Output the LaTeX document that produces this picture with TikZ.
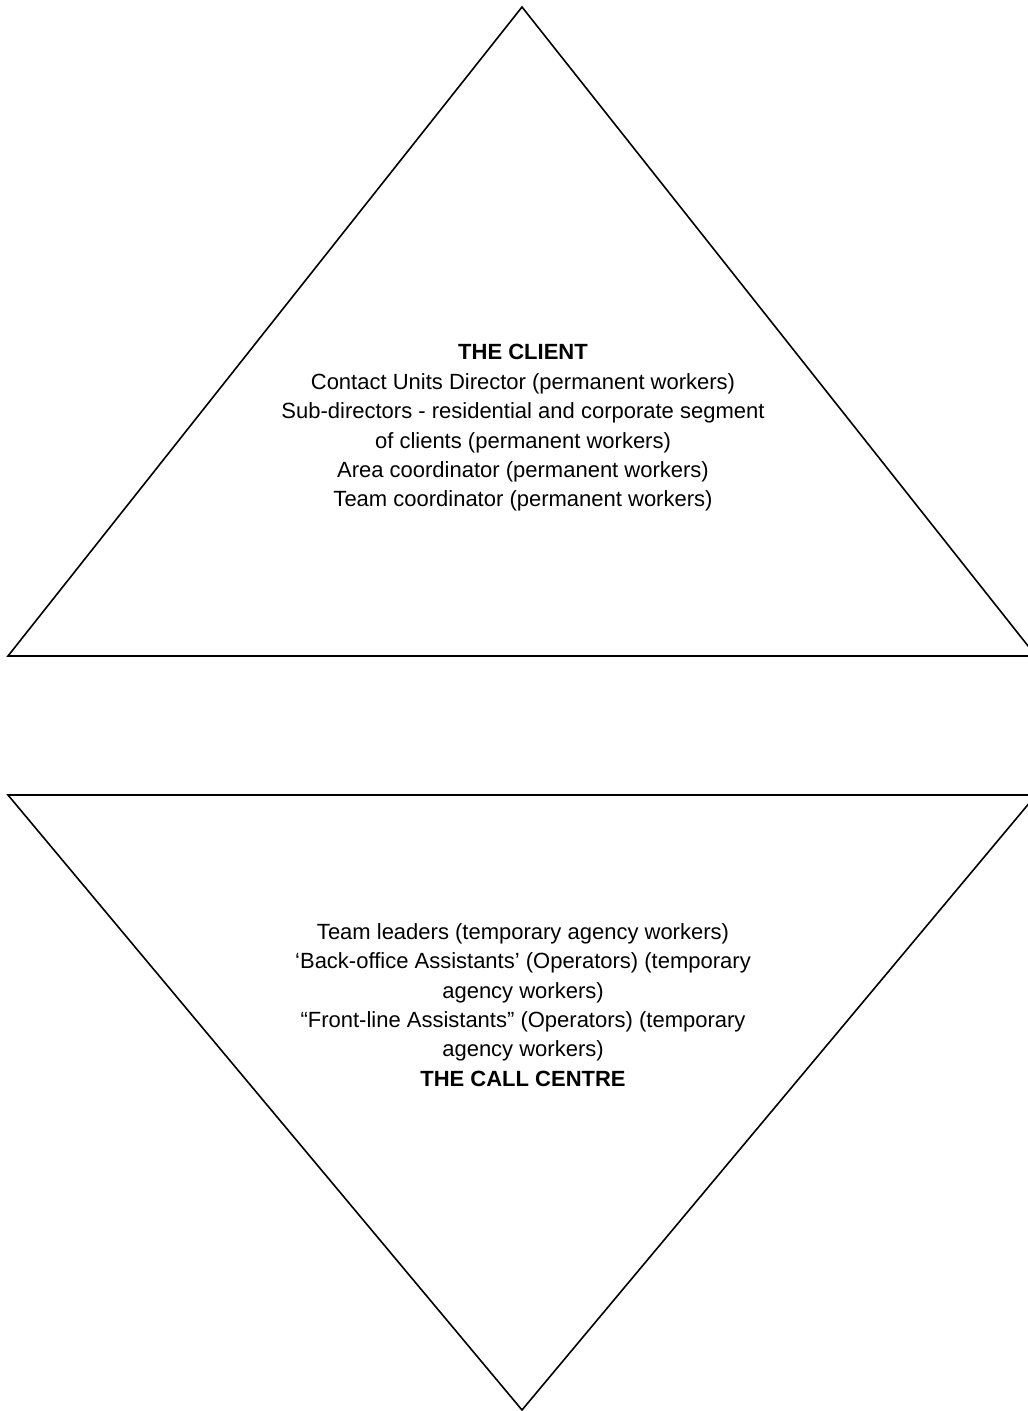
\documentclass[tikz,border=0pt]{standalone}
\usepackage{fontspec}
\setmainfont{Liberation Sans}
\begin{document}
\begin{tikzpicture}[x=1pt,y=-1pt,
  edge/.style={line width=1.6pt, line join=miter},
  label/.style={align=center, inner sep=0pt, font=\fontsize{22}{29.4}\selectfont}]
\useasboundingbox (0,0) rectangle (1028,1411);
% top triangle
\coordinate (tA) at (522,7);
\coordinate (tL) at (8,656);
\coordinate (tR) at (1036,656);
\draw[edge] (tA) -- (tL) -- (tR) -- cycle;
% bottom triangle
\coordinate (bL) at (8,795);
\coordinate (bR) at (1036,795);
\coordinate (bA) at (522,1410);
\draw[edge] (bL) -- (bR) -- (bA) -- cycle;
% texts
\node[label] (client) at (523,428) {\textbf{THE CLIENT}\\
Contact Units Director (permanent workers)\\
Sub-directors - residential and corporate segment\\
of clients (permanent workers)\\
Area coordinator (permanent workers)\\
Team coordinator (permanent workers)};
\node[label] (centre) at (523,1005) {Team leaders (temporary agency workers)\\
‘Back-office Assistants’ (Operators) (temporary\\
agency workers)\\
“Front-line Assistants” (Operators) (temporary\\
agency workers)\\
\textbf{THE CALL CENTRE}};
\end{tikzpicture}
\end{document}
